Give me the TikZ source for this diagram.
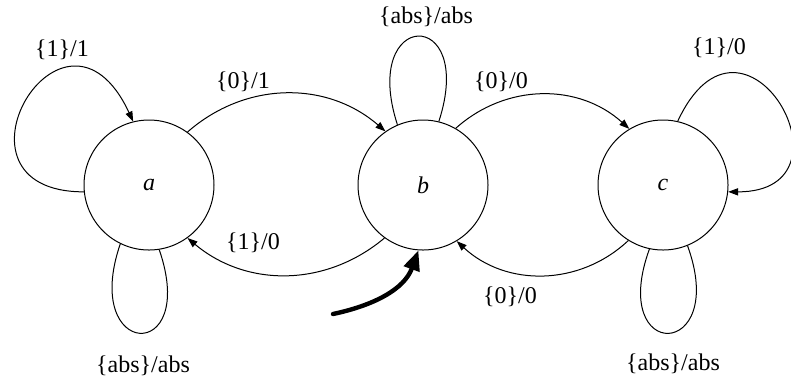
\documentclass[tikz,border=0pt]{standalone}
\usepackage{fontspec}
\setmainfont{Liberation Serif}
\usetikzlibrary{arrows.meta}

\begin{document}
\begin{tikzpicture}[x=0.5pt,y=0.5pt,
  state/.style={circle,draw,line width=0.5pt,minimum size=65pt,inner sep=0pt,
                font=\fontsize{12}{14}\selectfont\itshape},
  lbl/.style={inner sep=0pt,font=\fontsize{12}{14}\selectfont},
  trans/.style={line width=0.5pt,-{Triangle[length=5pt,width=3.6pt]}},
  selfloop/.style={line width=0.5pt},
  start/.style={line width=2.2pt,line cap=round,-{Triangle[length=10pt,width=8pt]}}]
\useasboundingbox (0,0) rectangle (791,-382);
\node[state] (a) at (149,-185) {a};
\node[state] (b) at (423,-185) {b};
\node[state] (c) at (663,-185) {c};
\coordinate (init) at (333,-314);
% transitions between states
\draw[trans] (a.54)  to[bend left=41] (b.125);
\draw[trans] (b.60)  to[bend left=42] (c.121);
\draw[trans] (b.234) to[bend left=40] (a.306);
\draw[trans] (c.238) to[bend left=43] (b.301);
% self loops
\draw[trans] (a.186) to[out=180,in=115,out distance=75pt,in distance=82pt] (a.104);
\draw[trans] (c.77)  to[out=65,in=0,out distance=78pt,in distance=68pt] (c.354);
\draw[selfloop] (a.244) to[out=251,in=289,distance=61pt] (a.279);
\draw[selfloop] (b.113) to[out=108,in=72,distance=61pt] (b.76);
\draw[selfloop] (c.258) to[out=250,in=290,distance=61pt] (c.292);
% initial state
\draw[start] (init) to[out=12,in=250] (b.266);
% labels
\node[lbl] (l1)  at (62,-50)   {\{1\}/1};
\node[lbl] (l2)  at (243,-82)  {\{0\}/1};
\node[lbl] (l3)  at (426,-17)  {\{abs\}/abs};
\node[lbl] (l4)  at (501,-82)  {\{0\}/0};
\node[lbl] (l5)  at (719,-48)  {\{1\}/0};
\node[lbl] (l6)  at (253,-243) {\{1\}/0};
\node[lbl] (l7)  at (510,-297) {\{0\}/0};
\node[lbl] (l8)  at (143,-366) {\{abs\}/abs};
\node[lbl] (l9)  at (673,-364) {\{abs\}/abs};
\end{tikzpicture}
\end{document}
